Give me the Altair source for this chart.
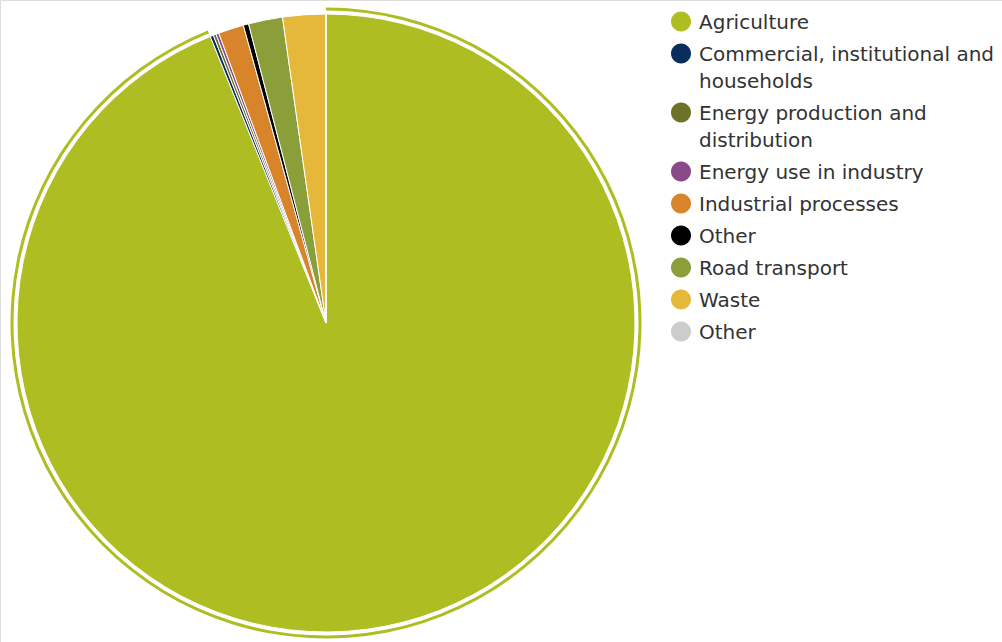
import altair as alt
import pandas as pd

sectors = ["Agriculture", "Commercial, institutional and households",
           "Energy production and distribution", "Energy use in industry",
           "Industrial processes", "Other", "Road transport", "Waste", "Other "]
values = [93.89, 0.17, 0.15, 0.15, 1.33, 0.28, 1.78, 2.25, 0.0]
colors = ["#aebd22", "#0b2d5c", "#6b7328", "#8a4a87", "#d8842a", "#000000",
          "#8a9e3a", "#e6b83a", "#cccccc"]

df = pd.DataFrame({"sector": sectors, "value": values, "idx": list(range(len(sectors)))})

label_expr = ("datum.label == 'Commercial, institutional and households' ? "
              "['Commercial, institutional and', 'households'] : "
              "datum.label == 'Energy production and distribution' ? "
              "['Energy production and', 'distribution'] : datum.label")

# circle shifted down so it lines up with the first line of a top-baseline label
circle_path = "M -1 0.85 A 1 1 0 1 0 1 0.85 A 1 1 0 1 0 -1 0.85 Z"

color = alt.Color("sector:N", scale=alt.Scale(domain=sectors, range=colors),
                  sort=sectors,
                  legend=alt.Legend(title=None, orient="none", legendX=671, legendY=3,
                                    symbolType=circle_path, symbolSize=400,
                                    symbolStrokeWidth=0,
                                    labelFont="DejaVu Sans", labelFontSize=20,
                                    labelColor="#333333", labelLimit=0,
                                    labelExpr=label_expr,
                                    labelOffset=8, rowPadding=2,
                                    labelBaseline="top"))

base = alt.Chart(df).encode(
    theta=alt.Theta("value:Q", stack=True),
    order=alt.Order("idx:Q"),
    x=alt.value(326), y=alt.value(323),
)

pie = base.mark_arc(radius=309, stroke="white", strokeWidth=1).encode(color=color)

ring = base.mark_arc(radius=315.5, radius2=312.5, color="#aebd22").encode(
    opacity=alt.condition(alt.datum.sector == "Agriculture", alt.value(1), alt.value(0))
)

chart = alt.layer(pie, ring).properties(
    width=1002, height=642, autosize=alt.AutoSizeParams(type="none"), padding=0
).configure_view(stroke=None).configure(background="white",
                                        style={"guide-label": {"lineHeight": 27}})

chart.save("out.html", embed_options={"renderer": "svg", "actions": False})
